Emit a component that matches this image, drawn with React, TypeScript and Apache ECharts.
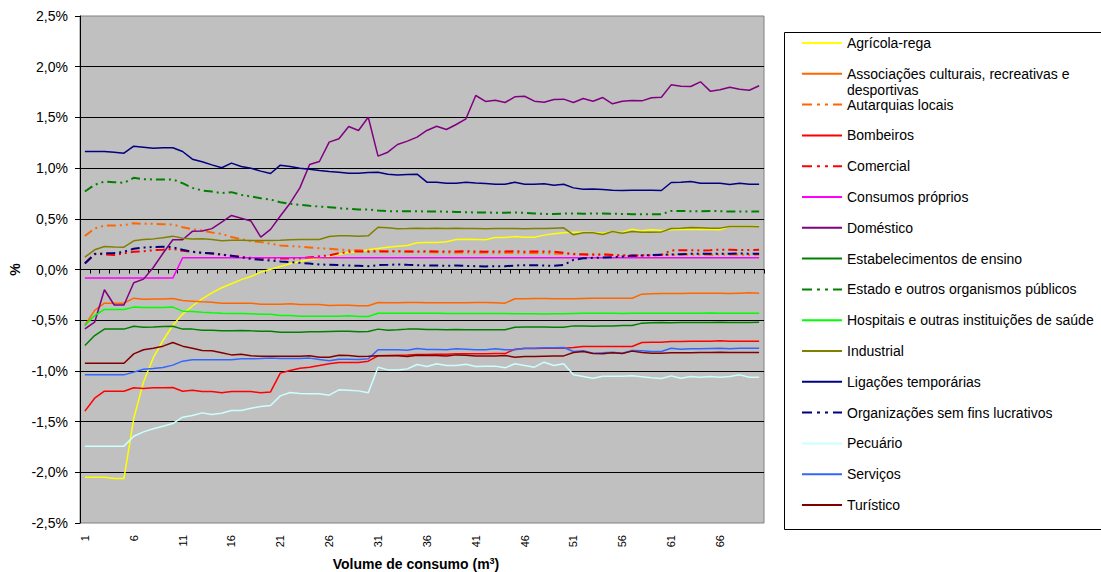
import React, { useEffect, useRef } from "react";
import * as echarts from "echarts";

const FONT = "Liberation Sans, Arial, sans-serif";

const categories: string[] = Array.from({ length: 70 }, (_, i) => String(i + 1));

const yTicks = { min: -2.5, max: 2.5, interval: 0.5 };

const agricola = [
  -2.05, -2.05, -2.05, -2.06, -2.06, -1.47, -1.11, -0.87, -0.7, -0.55,
  -0.44, -0.36, -0.29, -0.23, -0.18, -0.14, -0.1, -0.069, -0.026, 0.003,
  0.03, 0.056, 0.079, 0.099, 0.112, 0.128, 0.148, 0.171, 0.174, 0.194,
  0.207, 0.22, 0.23, 0.237, 0.263, 0.266, 0.266, 0.273, 0.296, 0.299,
  0.296, 0.293, 0.316, 0.316, 0.325, 0.319, 0.319, 0.339, 0.352, 0.362,
  0.368, 0.368, 0.365, 0.358, 0.375, 0.365, 0.398, 0.381, 0.391, 0.384,
  0.391, 0.394, 0.394, 0.394, 0.394, 0.391, 0.424, 0.424, 0.424, 0.424,
];
const associacoes = [
  -0.552, -0.404, -0.332, -0.332, -0.332, -0.283, -0.293, -0.29, -0.29, -0.286,
  -0.306, -0.312, -0.319, -0.322, -0.332, -0.332, -0.332, -0.332, -0.342, -0.342,
  -0.342, -0.338, -0.345, -0.345, -0.345, -0.355, -0.352, -0.352, -0.358, -0.358,
  -0.325, -0.329, -0.329, -0.325, -0.325, -0.329, -0.329, -0.329, -0.329, -0.329,
  -0.326, -0.326, -0.329, -0.332, -0.289, -0.289, -0.286, -0.286, -0.289, -0.289,
  -0.289, -0.286, -0.283, -0.283, -0.283, -0.283, -0.283, -0.243, -0.24, -0.237,
  -0.237, -0.237, -0.233, -0.233, -0.233, -0.233, -0.237, -0.233, -0.23, -0.233,
];
const autarquias = [
  0.33, 0.405, 0.433, 0.434, 0.437, 0.457, 0.45, 0.45, 0.447, 0.444,
  0.417, 0.398, 0.385, 0.365, 0.352, 0.32, 0.299, 0.28, 0.27, 0.255,
  0.237, 0.232, 0.225, 0.218, 0.21, 0.204, 0.198, 0.192, 0.19, 0.185,
  0.184, 0.18, 0.178, 0.178, 0.175, 0.171, 0.171, 0.168, 0.168, 0.168,
  0.165, 0.168, 0.165, 0.165, 0.165, 0.162, 0.162, 0.165, 0.158, 0.155,
  0.155, 0.152, 0.152, 0.148, 0.145, 0.142, 0.138, 0.138, 0.14, 0.142,
  0.145, 0.148, 0.148, 0.148, 0.145, 0.148, 0.148, 0.148, 0.145, 0.148,
];
const bombeiros = [
  -1.397, -1.269, -1.2, -1.2, -1.2, -1.167, -1.174, -1.167, -1.167, -1.164,
  -1.2, -1.19, -1.203, -1.203, -1.216, -1.203, -1.203, -1.203, -1.216, -1.207,
  -1.022, -0.996, -0.973, -0.963, -0.947, -0.93, -0.917, -0.917, -0.917, -0.904,
  -0.851, -0.848, -0.845, -0.842, -0.838, -0.838, -0.835, -0.835, -0.832, -0.832,
  -0.832, -0.832, -0.829, -0.829, -0.786, -0.78, -0.78, -0.776, -0.776, -0.776,
  -0.77, -0.759, -0.759, -0.759, -0.759, -0.759, -0.759, -0.72, -0.717, -0.717,
  -0.71, -0.71, -0.707, -0.707, -0.707, -0.703, -0.707, -0.707, -0.707, -0.707,
];
const comercial = [
  0.062, 0.155, 0.15, 0.142, 0.16, 0.175, 0.18, 0.19, 0.195, 0.204,
  0.184, 0.174, 0.165, 0.16, 0.15, 0.135, 0.125, 0.115, 0.112, 0.11,
  0.108, 0.108, 0.11, 0.12, 0.13, 0.14, 0.16, 0.175, 0.178, 0.175,
  0.178, 0.178, 0.18, 0.178, 0.178, 0.18, 0.178, 0.176, 0.178, 0.18,
  0.178, 0.176, 0.178, 0.178, 0.18, 0.176, 0.178, 0.178, 0.176, 0.165,
  0.15, 0.148, 0.145, 0.148, 0.142, 0.138, 0.138, 0.14, 0.14, 0.145,
  0.188, 0.19, 0.19, 0.188, 0.19, 0.196, 0.194, 0.192, 0.192, 0.194,
];
const consumosProprios = [
  -0.085, -0.085, -0.085, -0.085, -0.085, -0.085, -0.085, -0.085, -0.085, -0.085,
  0.115, 0.115, 0.115, 0.115, 0.115, 0.115, 0.115, 0.115, 0.115, 0.115,
  0.115, 0.115, 0.115, 0.115, 0.115, 0.115, 0.115, 0.115, 0.115, 0.115,
  0.115, 0.115, 0.115, 0.115, 0.115, 0.115, 0.115, 0.115, 0.115, 0.115,
  0.115, 0.115, 0.115, 0.115, 0.115, 0.115, 0.115, 0.115, 0.115, 0.115,
  0.115, 0.115, 0.115, 0.115, 0.115, 0.115, 0.115, 0.115, 0.115, 0.115,
  0.115, 0.115, 0.115, 0.115, 0.115, 0.115, 0.115, 0.115, 0.115, 0.115,
];
const domestico = [
  -0.585, -0.52, -0.2, -0.35, -0.35, -0.13, -0.095, 0.02, 0.16, 0.293,
  0.293, 0.376, 0.38, 0.403, 0.468, 0.533, 0.506, 0.478, 0.319, 0.396,
  0.528, 0.654, 0.805, 1.036, 1.065, 1.256, 1.289, 1.41, 1.371, 1.502,
  1.118, 1.157, 1.233, 1.266, 1.305, 1.371, 1.413, 1.381, 1.43, 1.486,
  1.716, 1.657, 1.67, 1.647, 1.703, 1.709, 1.66, 1.65, 1.677, 1.68,
  1.647, 1.686, 1.66, 1.696, 1.634, 1.66, 1.667, 1.663, 1.693, 1.699,
  1.821, 1.808, 1.805, 1.851, 1.759, 1.772, 1.798, 1.778, 1.768, 1.812,
];
const ensino = [
  -0.75, -0.651, -0.588, -0.588, -0.588, -0.559, -0.569, -0.566, -0.562, -0.559,
  -0.588, -0.588, -0.598, -0.598, -0.605, -0.605, -0.601, -0.605, -0.608, -0.608,
  -0.618, -0.618, -0.618, -0.615, -0.615, -0.611, -0.608, -0.608, -0.615, -0.611,
  -0.588, -0.598, -0.595, -0.588, -0.588, -0.592, -0.592, -0.595, -0.592, -0.595,
  -0.595, -0.595, -0.595, -0.595, -0.569, -0.566, -0.566, -0.566, -0.569, -0.569,
  -0.556, -0.556, -0.559, -0.556, -0.556, -0.552, -0.552, -0.529, -0.526, -0.523,
  -0.526, -0.523, -0.523, -0.523, -0.523, -0.52, -0.523, -0.523, -0.523, -0.52,
];
const estado = [
  0.769, 0.835, 0.868, 0.861, 0.855, 0.904, 0.891, 0.888, 0.888, 0.888,
  0.851, 0.805, 0.779, 0.769, 0.753, 0.763, 0.736, 0.72, 0.703, 0.69,
  0.664, 0.648, 0.638, 0.628, 0.621, 0.615, 0.605, 0.598, 0.592, 0.592,
  0.582, 0.575, 0.575, 0.575, 0.575, 0.572, 0.572, 0.57, 0.568, 0.565,
  0.562, 0.562, 0.56, 0.56, 0.562, 0.56, 0.552, 0.548, 0.548, 0.552,
  0.552, 0.55, 0.552, 0.552, 0.55, 0.548, 0.545, 0.545, 0.545, 0.545,
  0.578, 0.578, 0.575, 0.575, 0.578, 0.575, 0.572, 0.572, 0.572, 0.572,
];
const hospitais = [
  -0.552, -0.454, -0.394, -0.394, -0.394, -0.371, -0.374, -0.374, -0.374, -0.371,
  -0.411, -0.414, -0.421, -0.427, -0.431, -0.434, -0.434, -0.437, -0.441, -0.441,
  -0.454, -0.454, -0.46, -0.46, -0.46, -0.46, -0.46, -0.457, -0.464, -0.464,
  -0.431, -0.431, -0.431, -0.432, -0.432, -0.432, -0.432, -0.434, -0.434, -0.434,
  -0.434, -0.435, -0.435, -0.434, -0.437, -0.437, -0.437, -0.438, -0.437, -0.437,
  -0.434, -0.432, -0.432, -0.432, -0.431, -0.434, -0.431, -0.431, -0.431, -0.431,
  -0.431, -0.431, -0.431, -0.431, -0.428, -0.431, -0.431, -0.431, -0.431, -0.431,
];
const industrial = [
  0.122, 0.194, 0.227, 0.222, 0.22, 0.283, 0.296, 0.302, 0.312, 0.329,
  0.309, 0.302, 0.304, 0.296, 0.283, 0.289, 0.289, 0.286, 0.286, 0.286,
  0.289, 0.293, 0.296, 0.296, 0.296, 0.325, 0.332, 0.332, 0.329, 0.332,
  0.417, 0.411, 0.401, 0.404, 0.408, 0.405, 0.408, 0.404, 0.408, 0.405,
  0.404, 0.401, 0.404, 0.404, 0.404, 0.401, 0.404, 0.405, 0.408, 0.411,
  0.342, 0.362, 0.362, 0.345, 0.375, 0.358, 0.375, 0.368, 0.368, 0.371,
  0.404, 0.408, 0.414, 0.411, 0.408, 0.408, 0.424, 0.424, 0.424, 0.421,
];
const ligacoes = [
  1.164, 1.164, 1.164, 1.157, 1.147, 1.216, 1.206, 1.196, 1.2, 1.2,
  1.164, 1.088, 1.062, 1.032, 1.003, 1.049, 1.016, 0.999, 0.97, 0.947,
  1.029, 1.016, 0.999, 0.989, 0.976, 0.966, 0.96, 0.95, 0.95, 0.957,
  0.96, 0.94, 0.933, 0.937, 0.94, 0.861, 0.861, 0.851, 0.851, 0.861,
  0.854, 0.848, 0.841, 0.841, 0.861, 0.841, 0.841, 0.845, 0.831, 0.841,
  0.805, 0.792, 0.795, 0.789, 0.782, 0.779, 0.782, 0.782, 0.782, 0.779,
  0.858, 0.861, 0.868, 0.851, 0.851, 0.851, 0.838, 0.851, 0.841, 0.841,
];
const organizacoes = [
  0.06, 0.15, 0.161, 0.162, 0.175, 0.205, 0.217, 0.222, 0.224, 0.22,
  0.194, 0.175, 0.165, 0.158, 0.145, 0.135, 0.12, 0.105, 0.095, 0.089,
  0.08, 0.072, 0.066, 0.058, 0.05, 0.046, 0.043, 0.039, 0.036, 0.033,
  0.043, 0.046, 0.05, 0.046, 0.043, 0.039, 0.039, 0.036, 0.039, 0.036,
  0.033, 0.03, 0.033, 0.033, 0.039, 0.043, 0.043, 0.039, 0.036, 0.046,
  0.095, 0.11, 0.115, 0.118, 0.122, 0.128, 0.135, 0.138, 0.142, 0.145,
  0.148, 0.151, 0.155, 0.155, 0.155, 0.155, 0.155, 0.158, 0.155, 0.155,
];
const pecuario = [
  -1.742, -1.742, -1.742, -1.742, -1.742, -1.644, -1.601, -1.571, -1.545, -1.519,
  -1.456, -1.44, -1.414, -1.43, -1.417, -1.391, -1.391, -1.368, -1.351, -1.341,
  -1.246, -1.213, -1.223, -1.226, -1.226, -1.239, -1.187, -1.19, -1.197, -1.216,
  -0.963, -0.99, -0.99, -0.98, -0.937, -0.957, -0.93, -0.947, -0.947, -0.934,
  -0.957, -0.953, -0.953, -0.97, -0.93, -0.947, -0.963, -0.914, -0.947, -0.93,
  -1.039, -1.055, -1.072, -1.052, -1.052, -1.052, -1.049, -1.058, -1.068, -1.075,
  -1.049, -1.072, -1.055, -1.062, -1.055, -1.062, -1.055, -1.039, -1.062, -1.062,
];
const servicos = [
  -1.039, -1.039, -1.039, -1.039, -1.039, -1.012, -0.983, -0.976, -0.966, -0.943,
  -0.904, -0.891, -0.891, -0.891, -0.891, -0.891, -0.881, -0.881, -0.878, -0.874,
  -0.878, -0.878, -0.878, -0.874, -0.888, -0.901, -0.884, -0.884, -0.888, -0.881,
  -0.792, -0.792, -0.792, -0.796, -0.779, -0.789, -0.789, -0.792, -0.782, -0.786,
  -0.792, -0.792, -0.782, -0.792, -0.792, -0.776, -0.776, -0.772, -0.772, -0.769,
  -0.809, -0.802, -0.826, -0.822, -0.815, -0.826, -0.799, -0.802, -0.809, -0.809,
  -0.776, -0.786, -0.782, -0.782, -0.779, -0.776, -0.782, -0.776, -0.776, -0.776,
];
const turistico = [
  -0.924, -0.924, -0.924, -0.924, -0.924, -0.832, -0.792, -0.776, -0.756, -0.72,
  -0.756, -0.776, -0.799, -0.802, -0.822, -0.842, -0.835, -0.851, -0.855, -0.855,
  -0.855, -0.855, -0.855, -0.851, -0.865, -0.865, -0.845, -0.848, -0.858, -0.855,
  -0.851, -0.851, -0.851, -0.858, -0.845, -0.848, -0.848, -0.852, -0.842, -0.845,
  -0.852, -0.852, -0.852, -0.848, -0.865, -0.858, -0.858, -0.855, -0.852, -0.852,
  -0.819, -0.809, -0.829, -0.832, -0.822, -0.829, -0.805, -0.819, -0.826, -0.826,
  -0.822, -0.822, -0.822, -0.819, -0.819, -0.816, -0.819, -0.819, -0.819, -0.819,
];

const DASH = [9, 4, 2, 4, 2, 4];
const DASH_ICON = "path://M0 0H10V2H0Z M15 0H18V2H15Z M23 0H26V2H23Z M31 0H40V2H31Z";

type S = { name: string; color: string; data: number[]; dashed: boolean };
const seriesDefs: S[] = [
  { name: "Agrícola-rega", color: "#FFFF00", data: agricola, dashed: false },
  { name: "Associações culturais, recreativas e desportivas", color: "#FF6600", data: associacoes, dashed: false },
  { name: "Autarquias locais", color: "#FF6600", data: autarquias, dashed: true },
  { name: "Bombeiros", color: "#FF0000", data: bombeiros, dashed: false },
  { name: "Comercial", color: "#FF0000", data: comercial, dashed: true },
  { name: "Consumos próprios", color: "#FF00FF", data: consumosProprios, dashed: false },
  { name: "Doméstico", color: "#800080", data: domestico, dashed: false },
  { name: "Estabelecimentos de ensino", color: "#008000", data: ensino, dashed: false },
  { name: "Estado e outros organismos públicos", color: "#008000", data: estado, dashed: true },
  { name: "Hospitais e outras instituições de saúde", color: "#00FF00", data: hospitais, dashed: false },
  { name: "Industrial", color: "#808000", data: industrial, dashed: false },
  { name: "Ligações temporárias", color: "#000080", data: ligacoes, dashed: false },
  { name: "Organizações sem fins lucrativos", color: "#000080", data: organizacoes, dashed: true },
  { name: "Pecuário", color: "#CCFFFF", data: pecuario, dashed: false },
  { name: "Serviços", color: "#3366FF", data: servicos, dashed: false },
  { name: "Turístico", color: "#800000", data: turistico, dashed: false },
];

export default function App() {
  const ref = useRef<HTMLDivElement>(null);
  useEffect(() => {
    if (!ref.current) return;
    const chart = echarts.init(ref.current, undefined, { renderer: "svg" });
    chart.setOption({
      animation: false,
      textStyle: { fontFamily: FONT },
      grid: {
        left: 80,
        top: 16,
        width: 684,
        height: 507,
        outerBoundsMode: "none",
        containLabel: false,
        show: true,
        backgroundColor: "#C0C0C0",
        borderColor: "#808080",
        borderWidth: 1,
      },
      legend: {
        orient: "vertical",
        left: 802,
        top: 36,
        padding: 0,
        itemWidth: 40,
        itemHeight: 2,
        itemGap: 16.8,
        selectedMode: false,
        itemStyle: { borderWidth: 0 },
        textStyle: { fontSize: 14, color: "#000", fontFamily: FONT, lineHeight: 14 },
        formatter: (n: string) =>
          n.startsWith("Associações") ? "Associações culturais, recreativas e" : n,
        data: seriesDefs.map((s) => ({ name: s.name, icon: s.dashed ? DASH_ICON : "rect" })),
      },
      graphic: [
        {
          type: "rect",
          shape: { x: 784.5, y: 32.5, width: 340, height: 497 },
          style: { fill: "none", stroke: "#000", lineWidth: 1 },
          silent: true,
        },
        {
          type: "text",
          x: 847,
          y: 90,
          style: {
            text: "desportivas",
            fontSize: 14,
            fontFamily: FONT,
            fill: "#000",
            verticalAlign: "middle",
          },
          silent: true,
        },
      ],
      xAxis: {
        type: "category",
        data: categories,
        boundaryGap: true,
        name: "{a|Volume de consumo (m}{s|3}{a|)}",
        nameLocation: "middle",
        nameGap: 33,
        nameMoveOverlap: false,
        nameTextStyle: {
          padding: [0, 12, 0, 0],
          rich: {
            a: { fontSize: 14, fontWeight: "bold", color: "#000", fontFamily: FONT, lineHeight: 16 },
            s: { fontSize: 9, fontWeight: "bold", color: "#000", fontFamily: FONT, verticalAlign: "top", lineHeight: 16, padding: [0, 0, 8, 0] },
          },
        },
        axisLine: { lineStyle: { color: "#000", width: 1 } },
        axisTick: { show: true, interval: 0, length: 4, lineStyle: { color: "#000" } },
        axisLabel: { interval: 4, rotate: 90, fontSize: 11, color: "#000", margin: 12, fontFamily: FONT },
        splitLine: { show: false },
      },
      yAxis: {
        type: "value",
        min: yTicks.min,
        max: yTicks.max,
        interval: yTicks.interval,
        name: "%",
        nameLocation: "middle",
        nameRotate: 90,
        nameGap: 58,
        nameMoveOverlap: false,
        nameTextStyle: { fontSize: 14, fontWeight: "bold", color: "#000", fontFamily: FONT },
        axisLine: { show: true, lineStyle: { color: "#000", width: 1 } },
        axisTick: { show: true, length: 5, lineStyle: { color: "#000" } },
        axisLabel: {
          fontSize: 14,
          color: "#000",
          margin: 12,
          fontFamily: FONT,
          formatter: (v: number) => v.toFixed(1).replace(".", ",") + "%",
        },
        splitLine: { show: true, showMinLine: false, showMaxLine: false, lineStyle: { color: "#000", width: 1 } },
      },
      series: seriesDefs.map((s) => ({
        name: s.name,
        type: "line",
        data: s.data,
        symbol: "none",
        showSymbol: false,
        color: s.color,
        lineStyle: { color: s.color, width: s.dashed ? 2 : 1.5, type: s.dashed ? DASH : "solid" },
        emphasis: { disabled: true },
        silent: true,
      })),
    });
    return () => chart.dispose();
  }, []);
  return (
    <div
      ref={ref}
      style={{ position: "absolute", left: 0, top: 0, width: 1101, height: 572, background: "#fff" }}
    />
  );
}
